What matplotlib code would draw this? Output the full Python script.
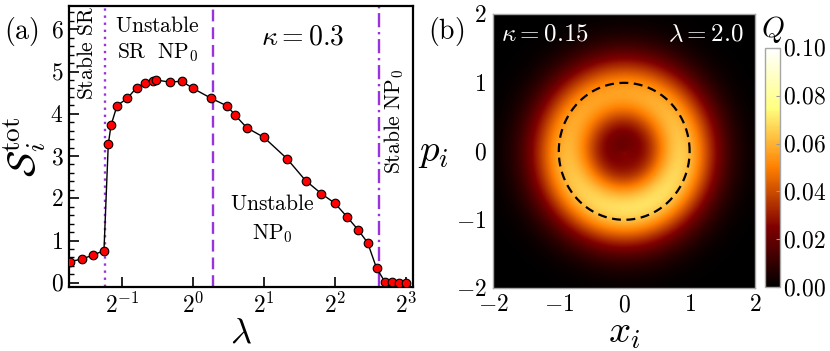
import numpy as np
import matplotlib.pyplot as plt

plt.rcParams['font.family'] = ['Liberation Serif', 'DejaVu Serif']
plt.rcParams['mathtext.fontset'] = 'cm'

# ---- panel (a): total entropy vs coupling lambda ----
lam = [0.300, 0.337, 0.378, 0.419, 0.437, 0.449, 0.476, 0.527, 0.577, 0.626,
       0.679, 0.694, 0.797, 0.896, 1.00, 1.19, 1.40, 1.50, 1.69, 2.00,
       2.50, 3.00, 3.50, 4.00, 4.50, 5.00, 5.50, 6.00, 6.50, 7.00, 7.50, 8.00]
S_tot = [0.50, 0.56, 0.66, 0.76, 3.28, 3.73, 4.19, 4.37, 4.62, 4.73,
         4.78, 4.80, 4.75, 4.77, 4.60, 4.37, 4.18, 3.98, 3.67, 3.44,
         2.94, 2.42, 2.11, 1.88, 1.56, 1.26, 0.95, 0.35, 0.03, 0.01, 0.0, 0.0]

lam_stable_sr = 0.424     # dotted
lam_unstable_np = 1.22    # dashed
lam_stable_np = 6.15      # dash-dot

xtick_vals = [0.5, 1, 2, 4, 8]
xtick_labels = [r'$2^{-1}$', r'$2^{0}$', r'$2^{1}$', r'$2^{2}$', r'$2^{3}$']

# ---- panel (b): Husimi Q function ring (kappa=0.15, lambda=2.0) ----
ring_radius = 0.9
ring_peak = 0.058
ring_order = 1.5
core_level = 0.4
core_width = 0.5
ring_tilt = 0.1           # brighter towards the bottom
tilt_angle = 0.4 * np.pi
p_stretch = 0.98
cbar_ticks = [0.00, 0.02, 0.04, 0.06, 0.08, 0.10]

fig = plt.figure(figsize=(8.3, 3.51), dpi=100)

# panel (a)
ax = fig.add_axes([0.0831, 0.1823, 0.4145, 0.8006])
ax.plot(lam, S_tot, '-', color='black', lw=1.0, zorder=3)
ax.plot(lam, S_tot, 'o', ms=6.2, mfc='#ff0000', mec='black', mew=0.8, zorder=4)
purple = '#9933dd'
ax.axvline(lam_stable_sr, color=purple, ls=(0, (1, 2)), lw=1.7)
ax.axvline(lam_unstable_np, color=purple, ls=(0, (5, 2.5)), lw=1.7)
ax.axvline(lam_stable_np, color=purple, ls=(0, (6, 2, 1, 2)), lw=1.7)

ax.set_xscale('log', base=2)
ax.set_xlim(0.2977, 8.57)
ax.set_ylim(-0.1, 6.55)
ax.set_xticks(xtick_vals)
ax.set_xticklabels(xtick_labels)
ax.xaxis.set_minor_locator(plt.NullLocator())
ax.set_yticks(range(7))
ax.set_yticklabels([f'${v}$' for v in range(7)])
ax.set_yticks(np.arange(0, 6.6, 0.2), minor=True)
ax.tick_params(which='major', direction='in', length=7, width=1.2, labelsize=17,
               top=False, right=False, pad=4)
ax.tick_params(which='minor', direction='in', length=3.5, width=1.0,
               top=False, right=False)
for s in ax.spines.values():
    s.set_linewidth(1.6)

ax.set_xlabel(r'$\lambda$', fontsize=26, labelpad=0)
ax.set_ylabel(r'$\mathcal{S}_i^{\rm tot}$', fontsize=28, labelpad=2)

txt = dict(transform=ax.transAxes, fontsize=15.5, ha='center', va='center')
ax.text(0.055, 0.835, r'$\mathrm{Stable\ SR}$', rotation=90, **txt)
ax.text(0.256, 0.925, r'$\mathrm{Unstable}$', **txt)
ax.text(0.256, 0.833, r'$\mathrm{SR\ \ NP}_0$', **txt)
ax.text(0.59, 0.292, r'$\mathrm{Unstable}$', **txt)
ax.text(0.59, 0.19, r'$\mathrm{NP}_0$', **txt)
ax.text(0.945, 0.59, r'$\mathrm{Stable\ NP}_0$', rotation=90, **txt)
ax.text(0.68, 0.885, r'$\kappa = 0.3$', transform=ax.transAxes, fontsize=20,
        ha='center', va='center')
fig.text(0.026, 0.91, r'$\mathrm{(a)}$', fontsize=20, ha='center', va='center')

# panel (b)
bx = fig.add_axes([0.5944, 0.1786, 0.3153, 0.7806])
grid = np.linspace(-2, 2, 400)
X, P = np.meshgrid(grid, grid)
R = np.hypot(X, P / p_stretch)
theta = np.arctan2(P, X)
u = (R / ring_radius) ** 2
ring = u ** ring_order * np.exp(ring_order * (1 - u))
core = core_level * np.exp(-R ** 2 / (2 * core_width ** 2))
Q = ring_peak * (ring + core) * (1 + ring_tilt * np.cos(theta + tilt_angle))
im = bx.imshow(Q, extent=[-2, 2, -2, 2], origin='lower', cmap='afmhot',
               vmin=0, vmax=0.1, aspect='auto', interpolation='bilinear')
circ = np.linspace(0, 2 * np.pi, 300)
bx.plot(np.cos(circ), np.sin(circ), color='black', ls=(0, (4, 2.5)), lw=1.6)
bx.set_xlim(-2, 2)
bx.set_ylim(-2, 2)
bx.set_xticks([-2, -1, 0, 1, 2])
bx.set_xticklabels([r'$-2$', r'$-1$', r'$0$', r'$1$', r'$2$'])
bx.set_yticks([-2, -1, 0, 1, 2])
bx.set_yticklabels([r'$-2$', r'$-1$', r'$0$', r'$1$', r'$2$'])
bx.tick_params(length=0, labelsize=17, pad=5)
for s in bx.spines.values():
    s.set_color('0.65')
    s.set_linewidth(1.0)
bx.set_xlabel(r'$x_i$', fontsize=28, labelpad=-1)
bx.set_ylabel(r'$p_i$', fontsize=28, rotation=0, labelpad=16, va='center')
bx.text(0.03, 0.925, r'$\kappa = 0.15$', transform=bx.transAxes, color='white',
        fontsize=18, ha='left', va='center')
bx.text(0.955, 0.925, r'$\lambda = 2.0$', transform=bx.transAxes, color='white',
        fontsize=18, ha='right', va='center')
fig.text(0.537, 0.91, r'$\mathrm{(b)}$', fontsize=20, ha='center', va='center')

cax = fig.add_axes([0.9217, 0.1823, 0.018, 0.681])
cb = fig.colorbar(im, cax=cax, ticks=cbar_ticks)
cb.ax.set_yticklabels([f'${v:.2f}$' for v in cbar_ticks])
cb.ax.tick_params(length=3, direction='in', labelsize=17, pad=2, color='0.6')
cb.outline.set_edgecolor('0.65')
cb.outline.set_linewidth(1.0)
fig.text(0.931, 0.915, r'$Q$', fontsize=21, ha='center', va='center')

fig.savefig('out.png', dpi=100)
